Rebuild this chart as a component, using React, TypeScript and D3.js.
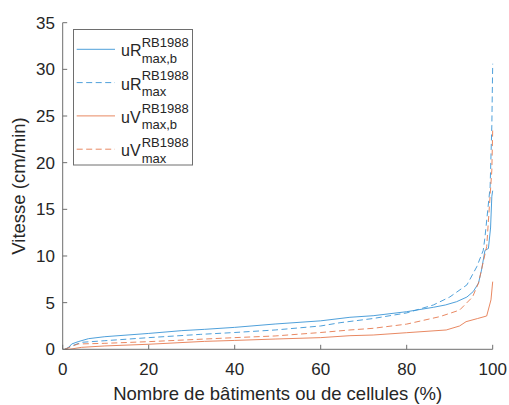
import React from "react";
import * as d3 from "d3";

const xTicks = [0, 20, 40, 60, 80, 100];
const yTicks = [0, 5, 10, 15, 20, 25, 30, 35];

const uRmaxbX = [0.5, 1, 2.1, 3.6, 6, 9.8, 20, 27.7, 33, 40, 49.4, 60, 66.8, 72.2, 80, 86.2, 89, 91.6, 94, 95.5, 96.7, 97.4, 98.2, 99, 99.5, 99.8, 100];
const uRmaxbY = [0, 0, 0.57, 0.82, 1.14, 1.35, 1.7, 2.0, 2.14, 2.35, 2.71, 3.05, 3.43, 3.6, 4.03, 4.5, 4.75, 5.1, 5.6, 6.2, 7.1, 8.5, 10.6, 10.8, 13, 16.4, 17];

const uRmaxX = [0.5, 1.7, 4.4, 9.8, 20, 32, 40, 49.4, 60, 64.5, 72.2, 80, 86.2, 90, 94, 96.3, 97.8, 98.2, 99.4, 99.8, 100];
const uRmaxY = [0, 0.3, 0.75, 0.92, 1.25, 1.6, 1.8, 2.07, 2.5, 2.85, 3.3, 3.9, 4.75, 5.6, 6.9, 8.85, 10.6, 12, 17.4, 24, 30.6];

const uVmaxbX = [0.5, 1.5, 4.4, 9.8, 20, 33, 40, 49.4, 60, 66.8, 72.2, 80, 89.2, 92.3, 93.8, 96.5, 98.6, 99.6, 100];
const uVmaxbY = [0, 0, 0.21, 0.36, 0.54, 0.85, 0.95, 1.1, 1.25, 1.46, 1.53, 1.78, 2.07, 2.5, 2.96, 3.3, 3.57, 5.3, 7.25];

const uVmaxX = [0.5, 2, 3.6, 9.8, 20, 33, 40, 49.4, 60, 66.8, 72.2, 80, 87.7, 92.3, 95.3, 96.7, 98.4, 98.6, 99.8, 100];
const uVmaxY = [0, 0.3, 0.57, 0.64, 0.82, 1.1, 1.25, 1.43, 1.8, 2.07, 2.25, 2.7, 3.5, 4.2, 5.6, 7.1, 10.6, 11, 19.2, 23.5];

const BLUE = "#3b95d6";
const ORANGE = "#e57a50";

const series = [
  { name: "uR", sub: "max,b", xs: uRmaxbX, ys: uRmaxbY, color: BLUE, dash: "" },
  { name: "uR", sub: "max", xs: uRmaxX, ys: uRmaxY, color: BLUE, dash: "6,3.5" },
  { name: "uV", sub: "max,b", xs: uVmaxbX, ys: uVmaxbY, color: ORANGE, dash: "" },
  { name: "uV", sub: "max", xs: uVmaxX, ys: uVmaxY, color: ORANGE, dash: "6,3.5" },
];

const W = 509;
const H = 405;
const left = 62.7;
const right = 492.7;
const top = 22.7;
const bottom = 349.3;

export default function App() {
  const x = d3.scaleLinear().domain([0, 100]).range([left, right]);
  const y = d3.scaleLinear().domain([0, 35]).range([bottom, top]);
  const line = d3.line<[number, number]>().x((d) => x(d[0])).y((d) => y(d[1]));
  const axisColor = "#6e6e6e";
  const textColor = "#262626";
  const font = "'Liberation Sans', Arial, Helvetica, sans-serif";

  const lgX = 73.5, lgY = 29.5, lgW = 119, lgH = 135.5;
  const rowY = (i: number) => 49.3 + i * 33.3;

  return (
    <svg
      width={W}
      height={H}
      style={{ position: "absolute", left: 0, top: 0, background: "#fff" }}
      fontFamily={font}
    >
      <rect x={0} y={0} width={W} height={H} fill="#fff" />
      {series.map((s, i) => (
        <path
          key={i}
          d={line(s.xs.map((v, j) => [v, s.ys[j]] as [number, number])) || ""}
          fill="none"
          stroke={s.color}
          strokeWidth={0.9}
          strokeDasharray={s.dash || undefined}
        />
      ))}
      <line x1={left} x2={right} y1={bottom} y2={bottom} stroke={axisColor} strokeWidth={1} />
      <line x1={left} x2={left} y1={top} y2={bottom} stroke={axisColor} strokeWidth={1} />
      {xTicks.map((t) => (
        <g key={"x" + t}>
          <line x1={x(t)} x2={x(t)} y1={bottom} y2={bottom - 4.5} stroke={axisColor} />
          <text x={x(t)} y={375} textAnchor="middle" fontSize={17} fill={textColor}>
            {t}
          </text>
        </g>
      ))}
      {yTicks.map((t) => (
        <g key={"y" + t}>
          <line x1={left} x2={left + 4.5} y1={y(t)} y2={y(t)} stroke={axisColor} />
          <text x={55} y={y(t)} dy="0.36em" textAnchor="end" fontSize={17} fill={textColor}>
            {t}
          </text>
        </g>
      ))}
      <text x={(left + right) / 2} y={399.5} textAnchor="middle" fontSize={18.5} fill={textColor}>
        Nombre de bâtiments ou de cellules (%)
      </text>
      <text
        transform={`translate(25, ${(top + bottom) / 2}) rotate(-90)`}
        textAnchor="middle"
        fontSize={18.5}
        fill={textColor}
      >
        Vitesse (cm/min)
      </text>
      <rect x={lgX} y={lgY} width={lgW} height={lgH} fill="#fff" stroke={axisColor} strokeWidth={1} />
      {series.map((s, i) => {
        const ly = rowY(i);
        return (
          <g key={"lg" + i}>
            <line
              x1={76.7}
              x2={115}
              y1={ly}
              y2={ly}
              stroke={s.color}
              strokeWidth={0.9}
              strokeDasharray={s.dash || undefined}
            />
            <text x={121} y={ly + 7} fontSize={16} fill={textColor}>
              {s.name}
            </text>
            <text x={141.7} y={ly - 2.7} fontSize={13} fill={textColor}>
              RB1988
            </text>
            <text x={141.7} y={ly + 13.5} fontSize={13} fill={textColor}>
              {s.sub}
            </text>
          </g>
        );
      })}
    </svg>
  );
}
